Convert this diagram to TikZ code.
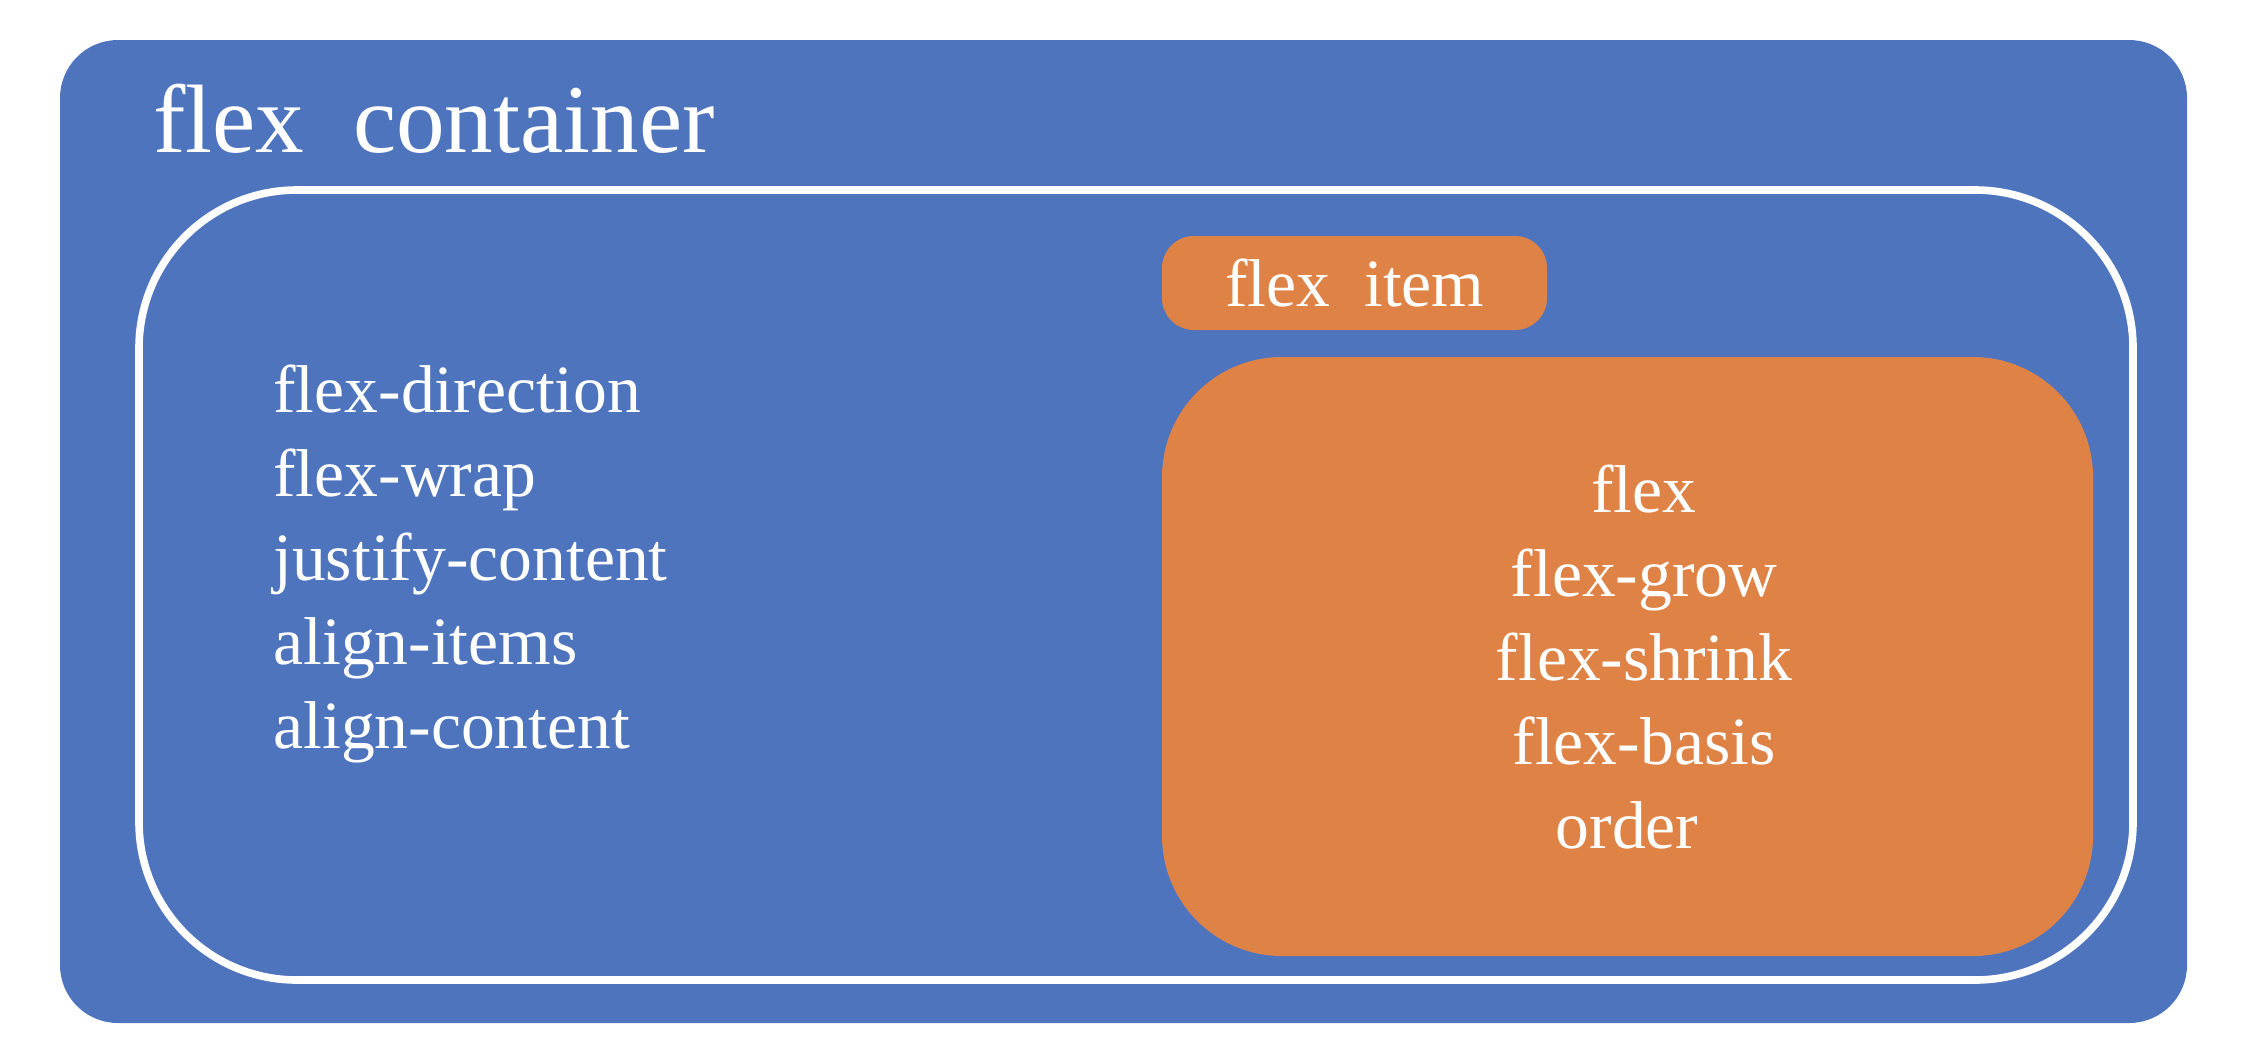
\documentclass[tikz,border=0pt]{standalone}
\usepackage{fontspec}
\setmainfont{Liberation Serif}
\definecolor{cblue}{HTML}{4E74BE}
\definecolor{corange}{HTML}{DF8245}
\begin{document}
\begin{tikzpicture}[x=0.5pt,y=-0.5pt,
  lbl/.style={text=white,inner sep=0pt,font=\fontsize{33.8}{40}\selectfont},
  ttl/.style={text=white,inner sep=0pt,font=\fontsize{48.6}{58}\selectfont}]
\useasboundingbox (0,0) rectangle (2246,1056);
% outer container
\fill[cblue, rounded corners=29pt] (60,40) rectangle (2187,1023);
% inner white frame
\draw[white, line width=3.8pt, rounded corners=79pt] (139,190) rectangle (2133,980);
% flex item label box
\fill[corange, rounded corners=16pt] (1162,236) rectangle (1547,330);
% big orange box
\fill[corange, rounded corners=60pt] (1162,357) rectangle (2093,956);
% texts
\node[ttl, anchor=base west] (title) at (153,152) {flex\ \ container};
\node[lbl, anchor=base west] (item) at (1225,306) {flex\ \ item};
\node[lbl, anchor=base west] (l1) at (273,412) {flex-direction};
\node[lbl, anchor=base west] (l2) at (273,496) {flex-wrap};
\node[lbl, anchor=base west] (l3) at (273,580) {justify-content};
\node[lbl, anchor=base west] (l4) at (273,664) {align-items};
\node[lbl, anchor=base west] (l5) at (273,748) {align-content};
\node[lbl, anchor=base] (r1) at (1644,512) {flex};
\node[lbl, anchor=base] (r2) at (1644,596) {flex-grow};
\node[lbl, anchor=base] (r3) at (1644,680) {flex-shrink};
\node[lbl, anchor=base] (r4) at (1644,764) {flex-basis};
\node[lbl, anchor=base] (r5) at (1627,848) {order};
\end{tikzpicture}
\end{document}
